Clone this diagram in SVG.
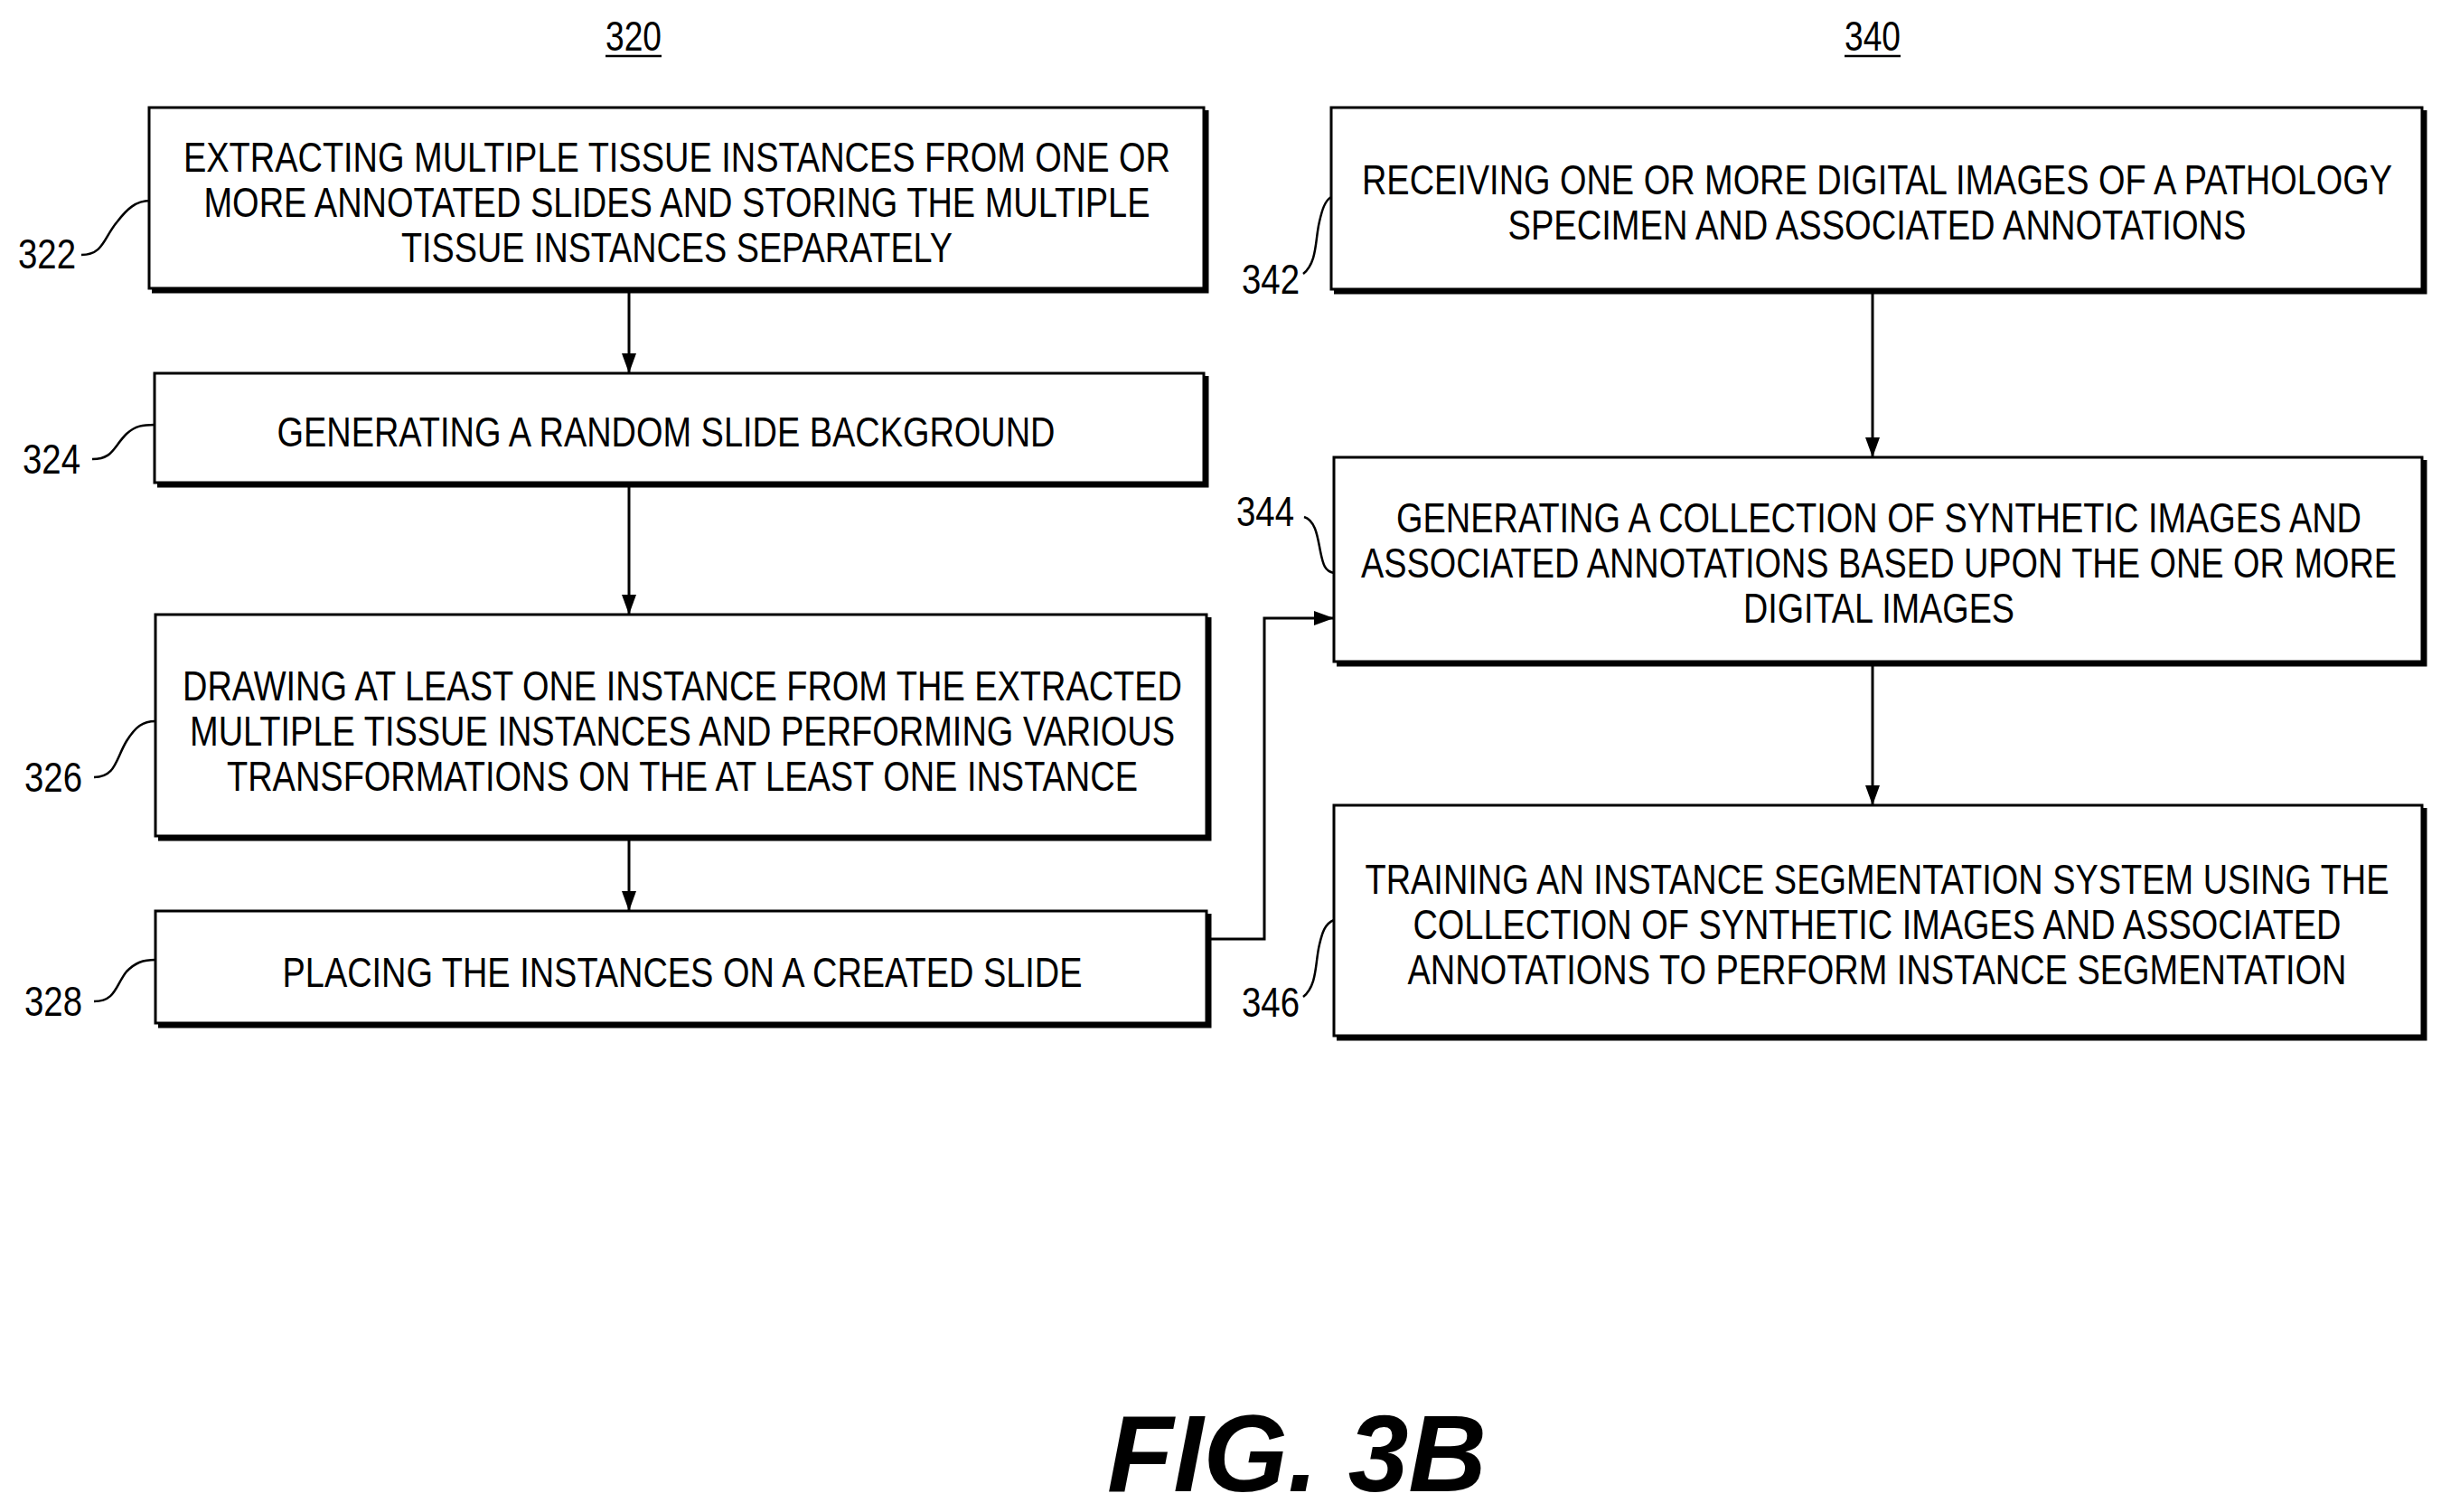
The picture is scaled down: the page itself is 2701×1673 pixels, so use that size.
<svg xmlns="http://www.w3.org/2000/svg" width="2701" height="1673" viewBox="0 0 2701 1673">
<style>
.b{fill:#fff;stroke:#000;stroke-width:3}
.s{fill:none;stroke:#000;stroke-width:5}
.t{font-family:"Liberation Sans",Arial,sans-serif;font-size:46px;fill:#000}
.l{font-family:"Liberation Sans",Arial,sans-serif;font-size:46px;fill:#000}
.c{fill:none;stroke:#000;stroke-width:3}
.q{fill:none;stroke:#000;stroke-width:2.5}
</style>
<defs>
<marker id="A" markerWidth="22" markerHeight="22" refX="22" refY="8" orient="auto" markerUnits="userSpaceOnUse" viewBox="0 0 22 16"><path d="M0,0 L22,8 L0,16 z" fill="#000"/></marker></defs>
<rect width="2701" height="1673" fill="#fff"/>
<text x="701" y="56" class="l" text-anchor="middle" textLength="62" lengthAdjust="spacingAndGlyphs">320</text>
<line x1="670" y1="62" x2="732" y2="62" stroke="#000" stroke-width="2.5"/>
<text x="2072" y="56" class="l" text-anchor="middle" textLength="62" lengthAdjust="spacingAndGlyphs">340</text>
<line x1="2041" y1="62" x2="2103" y2="62" stroke="#000" stroke-width="2.5"/>
<g id="n322"><polyline class="s" points="1335,122 1335,322 168,322"/><rect class="b" x="165" y="119" width="1167" height="200"/>
<text class="t" text-anchor="middle" x="749" y="190" textLength="1092" lengthAdjust="spacingAndGlyphs">EXTRACTING MULTIPLE TISSUE INSTANCES FROM ONE OR</text>
<text class="t" text-anchor="middle" x="749" y="240" textLength="1047" lengthAdjust="spacingAndGlyphs">MORE ANNOTATED SLIDES AND STORING THE MULTIPLE</text>
<text class="t" text-anchor="middle" x="749" y="290" textLength="610" lengthAdjust="spacingAndGlyphs">TISSUE INSTANCES SEPARATELY</text>
<text class="l" x="20" y="297" textLength="64" lengthAdjust="spacingAndGlyphs">322</text><path class="q" d="M90,282 C115,282 115,262 130,245 C140,232 150,222 166,222"/></g>
<g id="n324"><polyline class="s" points="1335,416 1335,537 174,537"/><rect class="b" x="171" y="413" width="1161" height="121"/>
<text class="t" text-anchor="middle" x="737" y="494" textLength="861" lengthAdjust="spacingAndGlyphs">GENERATING A RANDOM SLIDE BACKGROUND</text>
<text class="l" x="25" y="524" textLength="64" lengthAdjust="spacingAndGlyphs">324</text><path class="q" d="M102,508 C125,508 125,495 140,480 C150,471 158,470 171,470"/></g>
<g id="n326"><polyline class="s" points="1338,683 1338,928 175,928"/><rect class="b" x="172" y="680" width="1163" height="245"/>
<text class="t" text-anchor="middle" x="755" y="775" textLength="1106" lengthAdjust="spacingAndGlyphs">DRAWING AT LEAST ONE INSTANCE FROM THE EXTRACTED</text>
<text class="t" text-anchor="middle" x="755" y="825" textLength="1090" lengthAdjust="spacingAndGlyphs">MULTIPLE TISSUE INSTANCES AND PERFORMING VARIOUS</text>
<text class="t" text-anchor="middle" x="755" y="875" textLength="1008" lengthAdjust="spacingAndGlyphs">TRANSFORMATIONS ON THE AT LEAST ONE INSTANCE</text>
<text class="l" x="27" y="876" textLength="64" lengthAdjust="spacingAndGlyphs">326</text><path class="q" d="M104,860 C128,860 128,840 140,820 C150,804 158,798 172,798"/></g>
<g id="n328"><polyline class="s" points="1338,1011 1338,1135 175,1135"/><rect class="b" x="172" y="1008" width="1163" height="124"/>
<text class="t" text-anchor="middle" x="755" y="1092" textLength="885" lengthAdjust="spacingAndGlyphs">PLACING THE INSTANCES ON A CREATED SLIDE</text>
<text class="l" x="27" y="1124" textLength="64" lengthAdjust="spacingAndGlyphs">328</text><path class="q" d="M104,1108 C128,1108 128,1090 140,1075 C150,1065 158,1062 172,1062"/></g>
<g id="n342"><polyline class="s" points="2683,122 2683,323 1476,323"/><rect class="b" x="1473" y="119" width="1207" height="201"/>
<text class="t" text-anchor="middle" x="2077" y="215" textLength="1140" lengthAdjust="spacingAndGlyphs">RECEIVING ONE OR MORE DIGITAL IMAGES OF A PATHOLOGY</text>
<text class="t" text-anchor="middle" x="2077" y="265" textLength="817" lengthAdjust="spacingAndGlyphs">SPECIMEN AND ASSOCIATED ANNOTATIONS</text>
<text class="l" x="1374" y="325" textLength="64" lengthAdjust="spacingAndGlyphs">342</text><path class="q" d="M1442,303 C1458,290 1455,265 1460,245 C1463,232 1466,222 1473,218"/></g>
<g id="n344"><polyline class="s" points="2683,509 2683,735 1479,735"/><rect class="b" x="1476" y="506" width="1204" height="226"/>
<text class="t" text-anchor="middle" x="2079" y="589" textLength="1068" lengthAdjust="spacingAndGlyphs">GENERATING A COLLECTION OF SYNTHETIC IMAGES AND</text>
<text class="t" text-anchor="middle" x="2079" y="639" textLength="1146" lengthAdjust="spacingAndGlyphs">ASSOCIATED ANNOTATIONS BASED UPON THE ONE OR MORE</text>
<text class="t" text-anchor="middle" x="2079" y="689" textLength="300" lengthAdjust="spacingAndGlyphs">DIGITAL IMAGES</text>
<text class="l" x="1368" y="582" textLength="64" lengthAdjust="spacingAndGlyphs">344</text><path class="q" d="M1443,572 C1456,576 1458,595 1461,610 C1464,625 1466,632 1476,634"/></g>
<g id="n346"><polyline class="s" points="2683,894 2683,1149 1479,1149"/><rect class="b" x="1476" y="891" width="1204" height="255"/>
<text class="t" text-anchor="middle" x="2077" y="989" textLength="1133" lengthAdjust="spacingAndGlyphs">TRAINING AN INSTANCE SEGMENTATION SYSTEM USING THE</text>
<text class="t" text-anchor="middle" x="2077" y="1039" textLength="1027" lengthAdjust="spacingAndGlyphs">COLLECTION OF SYNTHETIC IMAGES AND ASSOCIATED</text>
<text class="t" text-anchor="middle" x="2077" y="1089" textLength="1039" lengthAdjust="spacingAndGlyphs">ANNOTATIONS TO PERFORM INSTANCE SEGMENTATION</text>
<text class="l" x="1374" y="1125" textLength="64" lengthAdjust="spacingAndGlyphs">346</text><path class="q" d="M1442,1103 C1458,1090 1455,1065 1460,1045 C1463,1032 1466,1022 1476,1018"/></g>
<g id="connectors">
<line class="c" x1="696" y1="322" x2="696" y2="413" marker-end="url(#A)"/>
<line class="c" x1="696" y1="537" x2="696" y2="680" marker-end="url(#A)"/>
<line class="c" x1="696" y1="928" x2="696" y2="1008" marker-end="url(#A)"/>
<polyline class="c" points="1338,1039 1399,1039 1399,684 1476,684" marker-end="url(#A)"/>
<line class="c" x1="2072" y1="323" x2="2072" y2="506" marker-end="url(#A)"/>
<line class="c" x1="2072" y1="735" x2="2072" y2="891" marker-end="url(#A)"/>
</g>
<text x="1435" y="1650" text-anchor="middle" font-family="Liberation Sans,Arial,sans-serif" font-weight="bold" font-style="italic" font-size="120">FIG. 3B</text>
</svg>
